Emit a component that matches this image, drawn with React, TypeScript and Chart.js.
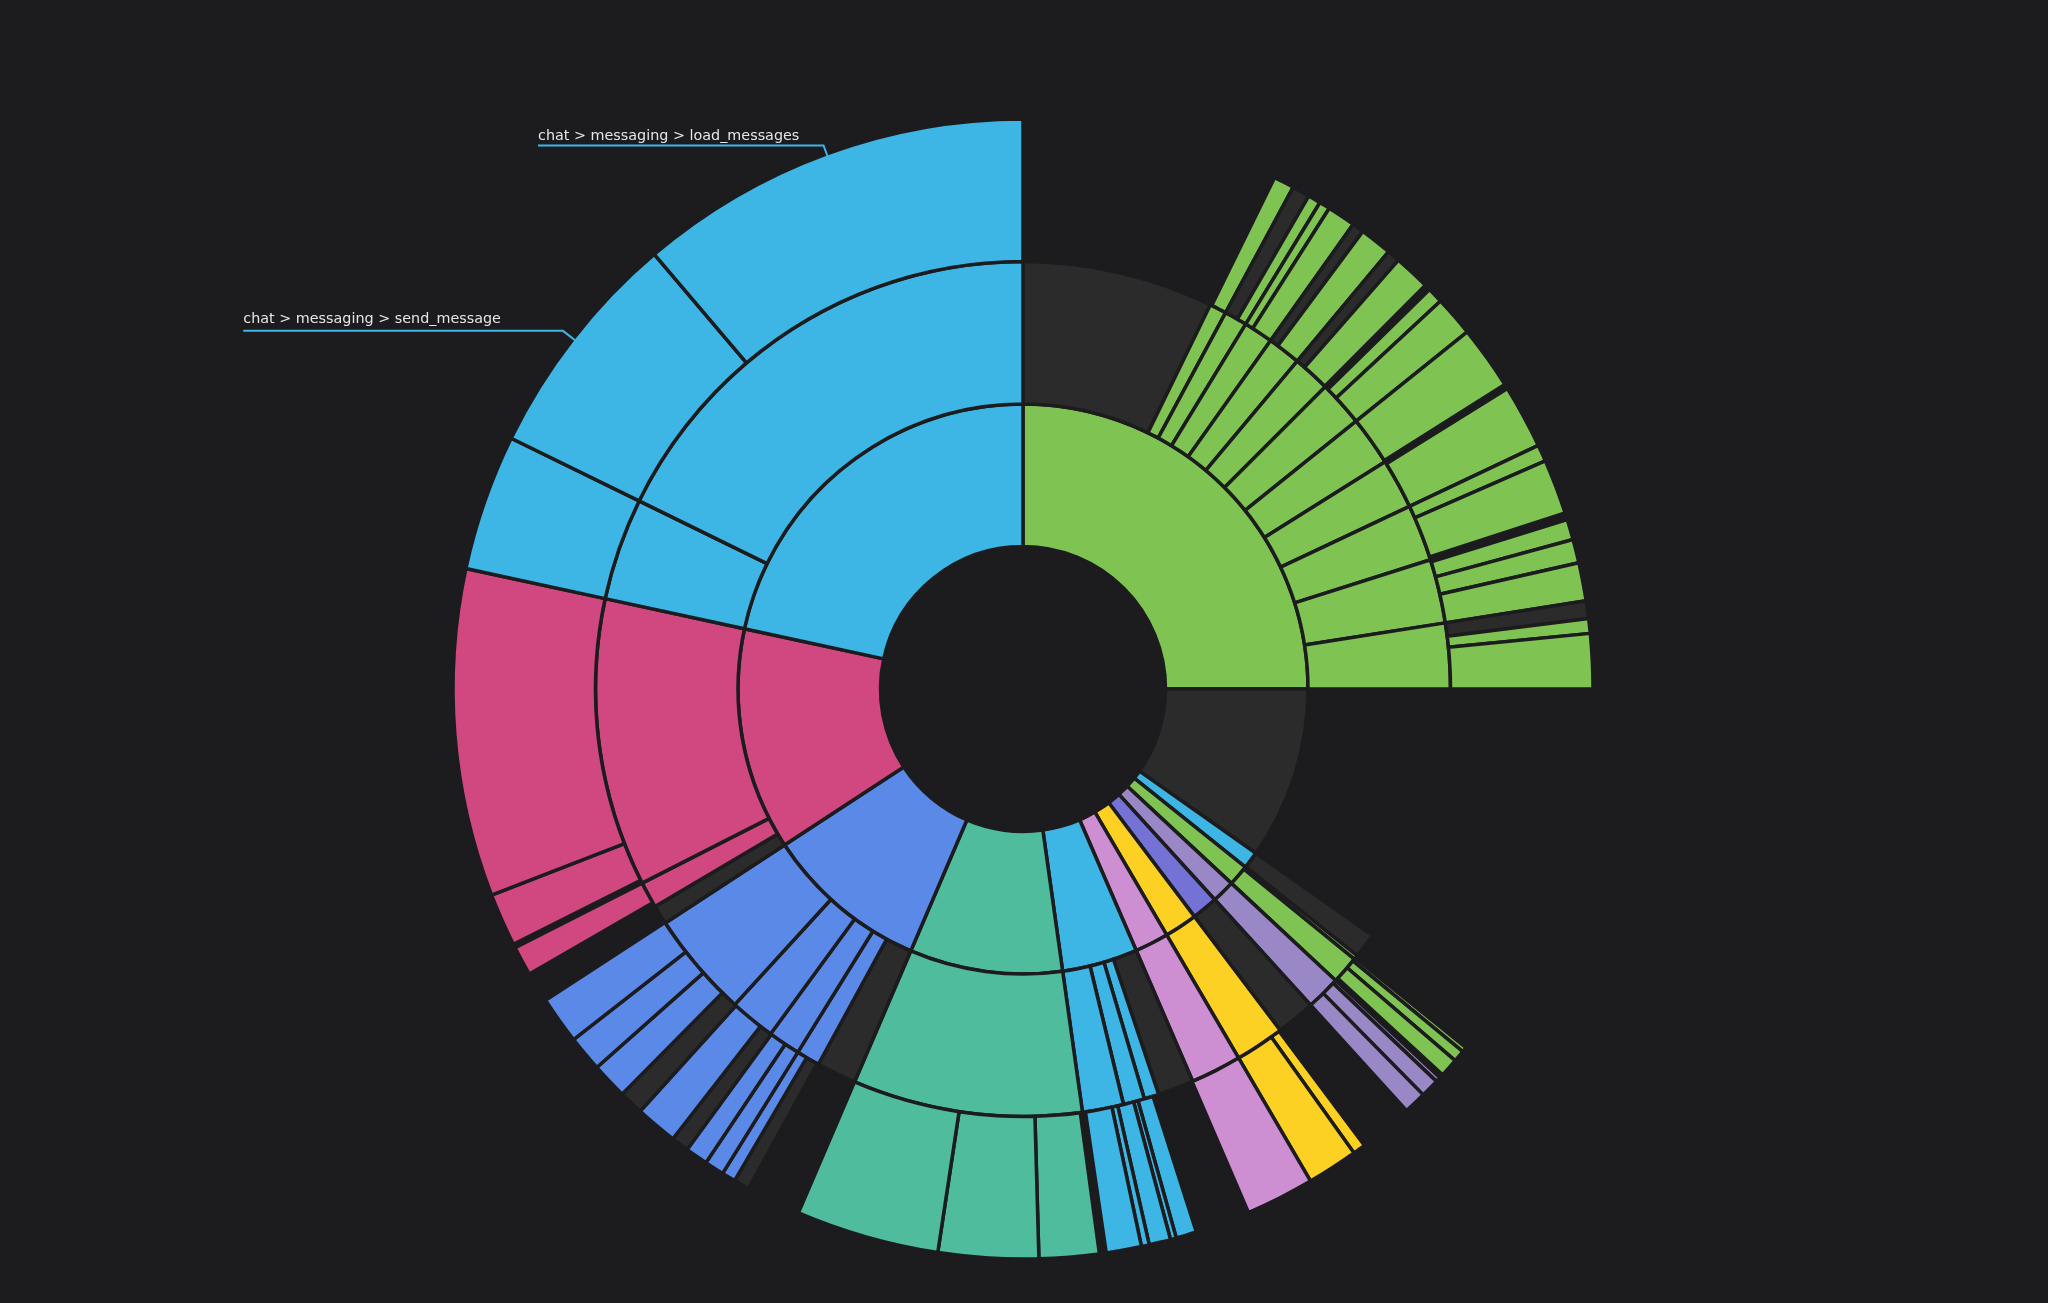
import { useEffect, useRef } from 'react';
import { Chart, registerables } from 'chart.js';

Chart.register(...registerables);

const palette: Record<string, string> = {
  lblue: '#3db6e6',
  green: '#7fc452',
  rose: '#d1477f',
  blue: '#5b89e8',
  teal: '#50bc9e',
  lav: '#9a87c6',
  purple: '#7472d4',
  yellow: '#fcd124',
  orchid: '#cd8fd2',
  grey: '#2b2b2b',
  none: 'rgba(0,0,0,0)',
};

// Each ring: clockwise end angle (degrees from 12 o'clock) of every slice, and its group
const innerEnds = [90, 125.2, 128.7, 133.0, 137.7, 143.0, 149.7, 156.6, 172.0, 203.2, 236.8, 282.2, 360];
const innerGroups = ['green', 'grey', 'lblue', 'green', 'lav', 'purple', 'yellow', 'orchid', 'lblue', 'teal', 'blue', 'rose', 'lblue'];

const middleEnds = [
  26.0, 28.3, 31.4, 35.4, 39.9, 45.0, 51.2, 57.9, 64.7, 72.4, 81.1, 90,
  125.2, 128.6, 129.2, 133.0, 137.7, 143.0, 149.7, 156.6, 161.5, 163.5, 166.4, 172.0,
  203.2, 208.6, 211.8, 216.2, 222.4, 236.8, 239.4, 243.0, 282.2, 296.1, 360,
];
const middleGroups = [
  'grey', 'green', 'green', 'green', 'green', 'green', 'green', 'green', 'green', 'green', 'green', 'green',
  'none', 'grey', 'green', 'green', 'lav', 'grey', 'yellow', 'orchid', 'grey', 'lblue', 'lblue', 'lblue',
  'teal', 'grey', 'blue', 'blue', 'blue', 'blue', 'grey', 'rose', 'rose', 'lblue', 'lblue',
];

const outerEnds = [
  26.2, 28.3, 30.1, 31.4, 32.5, 35.4, 36.6, 39.9, 41.2, 44.9, 45.5, 47.1, 51.2, 57.7, 58.2,
  64.7, 66.4, 72.0, 72.7, 74.8, 77.2, 81.1, 82.9, 84.4, 90,
  129.0, 129.5, 130.7, 132.6, 133.0, 133.5, 135.4, 137.7,
  143.2, 144.5, 149.7, 156.7,
  162.3, 164.4, 165.0, 167.2, 168.0, 171.6, 172.3,
  178.4, 188.6, 203.2,
  208.8, 210.4, 211.8, 213.8, 216.1, 217.9, 222.2, 224.7, 228.4, 232.05, 236.9,
  240.0, 243.0, 243.4, 248.8, 282.2, 296.1, 319.7, 360,
];
const outerGroups = [
  'none', 'green', 'grey', 'green', 'green', 'green', 'grey', 'green', 'grey', 'green', 'none', 'green', 'green', 'green', 'none',
  'green', 'green', 'green', 'none', 'green', 'green', 'green', 'grey', 'green', 'green',
  'none', 'green', 'green', 'green', 'none', 'lav', 'lav', 'lav',
  'none', 'yellow', 'yellow', 'orchid',
  'none', 'lblue', 'lblue', 'lblue', 'lblue', 'lblue', 'none',
  'teal', 'teal', 'teal',
  'none', 'grey', 'blue', 'blue', 'blue', 'grey', 'blue', 'grey', 'blue', 'blue', 'blue',
  'none', 'rose', 'none', 'rose', 'rose', 'lblue', 'lblue', 'lblue',
];

const labelTexts = ['chat > messaging > load_messages', 'chat > messaging > send_message'];
const labelSliceEnds = [360, 319.7];
const labelElbowGaps = [9, 13];
const labelLineLengths = [285.5, 319.7];
const labelTextLifts = [5, 7.7];

const toSpans = (ends: number[]) => ends.map((e, i) => +(e - (i === 0 ? 0 : ends[i - 1])).toFixed(3));

const BG = '#1c1c1e';
const BORDER = 3.5;

function ringDataset(ends: number[], groups: string[]) {
  return {
    data: toSpans(ends),
    backgroundColor: groups.map((g) => palette[g]),
    borderColor: BG,
    borderWidth: groups.map((g) => (g === 'none' ? 0 : BORDER)),
    hoverBorderWidth: groups.map((g) => (g === 'none' ? 0 : BORDER)),
    hoverOffset: 0,
    offset: 0,
    borderAlign: 'center' as const,
  };
}

const leaderPlugin = {
  id: 'leaders',
  afterDatasetsDraw(chart: any) {
    const meta = chart.getDatasetMeta(0);
    const ctx = chart.ctx as CanvasRenderingContext2D;
    ctx.save();
    labelTexts.forEach((text, k) => {
      const idx = outerEnds.indexOf(labelSliceEnds[k]);
      const arc = meta.data[idx];
      if (!arc) return;
      const { x, y, startAngle, endAngle, outerRadius } = arc.getProps(
        ['x', 'y', 'startAngle', 'endAngle', 'outerRadius'],
        true
      );
      const mid = (startAngle + endAngle) / 2;
      const r1 = outerRadius - 4;
      const r2 = outerRadius + labelElbowGaps[k];
      const x1 = x + Math.cos(mid) * r1;
      const y1 = y + Math.sin(mid) * r1;
      const x2 = x + Math.cos(mid) * r2;
      const y2 = y + Math.sin(mid) * r2;
      const x3 = x2 - labelLineLengths[k];
      ctx.strokeStyle = palette.lblue;
      ctx.lineWidth = 2;
      ctx.lineJoin = 'miter';
      ctx.beginPath();
      ctx.moveTo(x1, y1);
      ctx.lineTo(x2, y2);
      ctx.lineTo(x3, y2);
      ctx.stroke();
      ctx.fillStyle = '#e6e6e6';
      ctx.font = '14.35px "DejaVu Sans"';
      ctx.textAlign = 'left';
      ctx.textBaseline = 'alphabetic';
      ctx.fillText(text, x3, y2 - labelTextLifts[k]);
    });
    ctx.restore();
  },
};

export default function App() {
  const ref = useRef<HTMLCanvasElement | null>(null);

  useEffect(() => {
    if (!ref.current) return;
    const chart = new Chart(ref.current, {
      type: 'doughnut',
      data: {
        labels: outerEnds.map((_, i) => String(i)),
        datasets: [
          ringDataset(outerEnds, outerGroups),
          ringDataset(middleEnds, middleGroups),
          ringDataset(innerEnds, innerGroups),
        ] as any,
      },
      options: {
        responsive: false,
        animation: false,
        devicePixelRatio: 1,
        cutout: '25%',
        events: [],
        layout: { padding: { top: 117.25, bottom: 42.25, left: 0, right: 2 } },
        plugins: {
          legend: { display: false },
          tooltip: { enabled: false },
        },
      } as any,
      plugins: [leaderPlugin],
    });
    return () => chart.destroy();
  }, []);

  return (
    <div
      style={{
        position: 'fixed',
        left: 0,
        top: 0,
        width: 2048,
        height: 1303,
        background: BG,
        overflow: 'hidden',
      }}
    >
      <canvas ref={ref} width={2048} height={1303} style={{ display: 'block' }} />
    </div>
  );
}
